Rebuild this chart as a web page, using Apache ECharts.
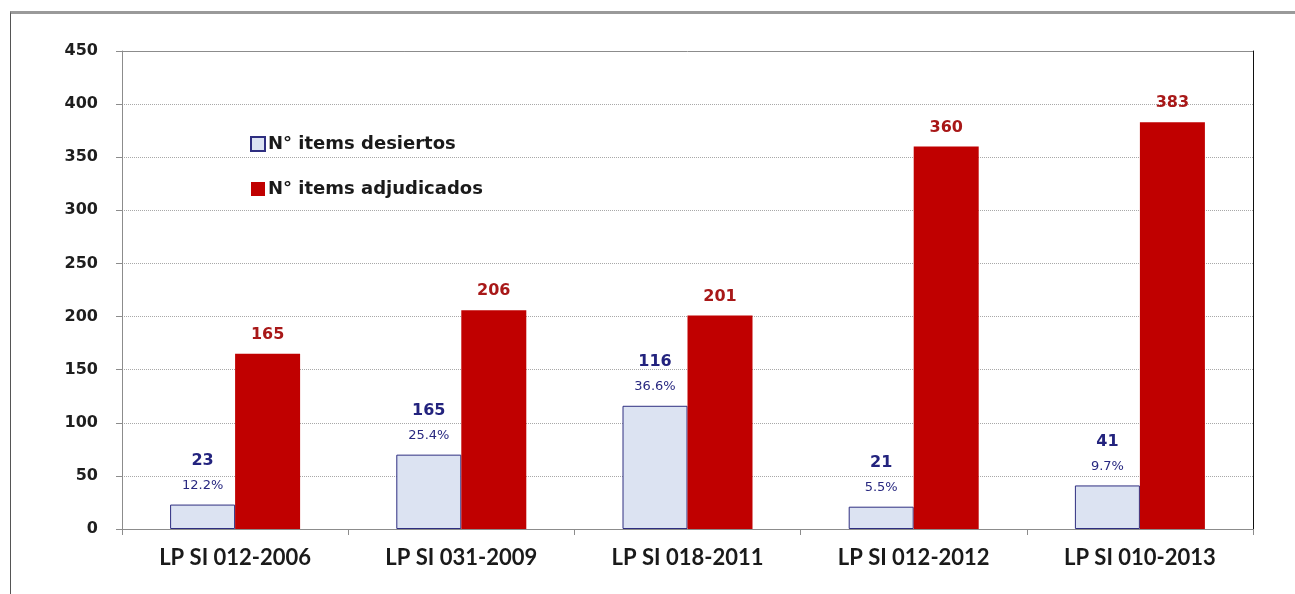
<!DOCTYPE html>
<html>
<head>
<meta charset="utf-8">
<script src="https://cdn.jsdelivr.net/npm/echarts@6/dist/echarts.min.js"></script>
<style>
  html, body { margin: 0; padding: 0; background: #fff; }
  #frame {
    position: absolute; left: 10px; top: 11px; width: 1285px; height: 583px;
    border-top: 3px solid #9a9a9a; border-left: 1px solid #555;
  }
  #chart { position: absolute; left: 0; top: 0; width: 1295px; height: 594px; }
</style>
</head>
<body>
<div id="frame"></div>
<div id="chart"></div>
<script>
var categories = ["LP SI 012-2006", "LP SI 031-2009", "LP SI 018-2011", "LP SI 012-2012", "LP SI 010-2013"];
var desiertos = [23, 70, 116, 21, 41];
var desiertosText = ["23", "165", "116", "21", "41"];
var desiertosPct = ["12.2%", "25.4%", "36.6%", "5.5%", "9.7%"];
var adjudicados = [165, 206, 201, 360, 383];
var yTicks = [0, 50, 100, 150, 200, 250, 300, 350, 400, 450];

var myChart = echarts.init(document.getElementById("chart"));
var option = {
  animation: false,
  backgroundColor: "transparent",
  grid: { left: 122, right: 42, top: 51, bottom: 65 },
  legend: {
    orient: "vertical",
    left: 245,
    top: 130,
    itemWidth: 14,
    itemHeight: 14,
    itemGap: 27,
    icon: "rect",
    textStyle: { fontFamily: "DejaVu Sans", fontWeight: "bold", fontSize: 18, color: "#1a1a1a", padding: [0, 0, 0, -2] },
    data: ["N° items desiertos", "N° items adjudicados"]
  },
  xAxis: {
    type: "category",
    data: categories,
    axisLine: { lineStyle: { color: "#8c8c8c", width: 1 } },
    axisTick: { show: true, length: 6, lineStyle: { color: "#8c8c8c" } },
    axisLabel: { fontFamily: "Lato", fontWeight: "bold", fontSize: 22, color: "#1a1a1a", margin: 18 }
  },
  yAxis: [
    {
      type: "value",
      min: yTicks[0],
      max: yTicks[yTicks.length - 1],
      interval: 50,
      axisLine: { show: true, lineStyle: { color: "#8c8c8c" } },
      axisTick: { show: true, length: 6, lineStyle: { color: "#8c8c8c" } },
      axisLabel: { fontFamily: "DejaVu Sans", fontWeight: "bold", fontSize: 16, color: "#1e1e1e", margin: 24 },
      splitLine: { show: true, lineStyle: { color: "#a8a8a8", type: [1, 1] } }
    },
    {
      type: "value",
      position: "right",
      min: 0,
      max: 450,
      interval: 450,
      axisLine: { show: true, lineStyle: { color: "#111", width: 1 } },
      axisTick: { show: false },
      axisLabel: { show: false },
      splitLine: { show: true, lineStyle: { color: "#8c8c8c", type: "solid" } }
    }
  ],
  series: [
    {
      name: "N° items desiertos",
      type: "bar",
      data: desiertos,
      barWidth: 65,
      barGap: "0%",
      itemStyle: { color: "#dce3f2", borderColor: "#2e2e80", borderWidth: 1 },
      label: {
        show: true,
        position: "top",
        distance: 8,
        formatter: function (p) {
          return "{num|" + desiertosText[p.dataIndex] + "}\n{pct|" + desiertosPct[p.dataIndex] + "}";
        },
        rich: {
          num: { fontFamily: "DejaVu Sans", fontWeight: "bold", fontSize: 16, color: "#23237e", lineHeight: 28 },
          pct: { fontFamily: "DejaVu Sans", fontSize: 13, color: "#282880", lineHeight: 22 }
        }
      }
    },
    {
      name: "N° items adjudicados",
      type: "bar",
      data: adjudicados,
      barWidth: 65,
      itemStyle: { color: "#c00000" },
      label: {
        show: true,
        position: "top",
        distance: 11,
        fontFamily: "DejaVu Sans",
        fontWeight: "bold",
        fontSize: 16,
        color: "#a81818"
      }
    }
  ]
};
myChart.setOption(option);
window.addEventListener("resize", function () {
  myChart.resize();
});
</script>
</body>
</html>
